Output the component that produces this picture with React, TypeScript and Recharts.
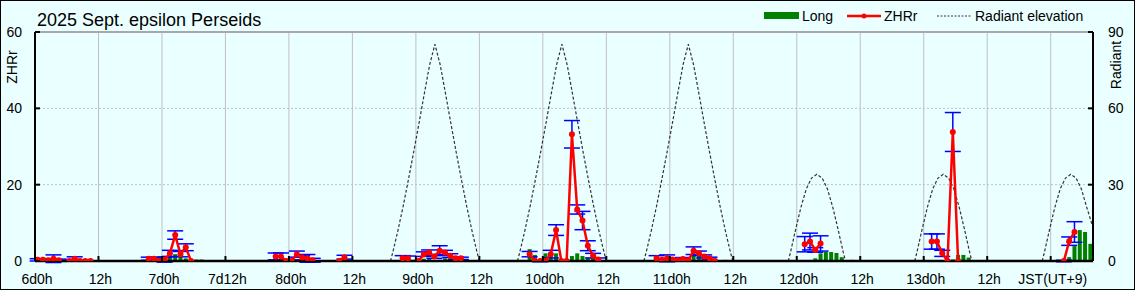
import React from 'react';
import { ComposedChart, Line, Bar, XAxis, YAxis, CartesianGrid, ReferenceLine, ErrorBar } from 'recharts';

// x values: hours elapsed since Sept 6d 0h JST
const xTicks = [0, 12, 24, 36, 48, 60, 72, 84, 96, 108, 120, 132, 144, 156, 168, 180, 192];
const xTickLabels = ['6d0h', '12h', '7d0h', '7d12h', '8d0h', '12h', '9d0h', '12h', '10d0h', '12h', '11d0h', '12h', '12d0h', '12h', '13d0h', '12h', 'JST(UT+9)'];
const leftTicks = [0, 20, 40, 60];
const rightTicks = [0, 30, 60, 90];

// ZHRr: [hour, ZHRr, error] ; null ZHRr = gap in the line
const zhrRows: [number, number | null, number | null][] = [
  [0.5, 0.3, 0.3], [1.5, 0.3, 0.3], [2.5, 0.2, null], [3.5, 0.6, 1.0], [4.5, 0.2, 0.3], [5.5, null, null],
  [6.5, 0, null], [7.5, 0.6, 0.5], [8.5, 0, null], [9.5, 0, null], [10.5, 0, null], [11.5, null, null],
  [21.5, 0.6, 0.4], [22.5, 0.6, 0.4], [23.5, 0, null], [24.5, 0.3, 0.6], [25.5, 2.0, 0.8], [26.5, 6.8, 1.1],
  [27.5, 1.8, 0.7], [28.5, 3.6, 0.9], [29.5, 0, null], [30.5, null, null],
  [45.5, 1.2, 0.9], [46.5, 1.2, 0.9], [47.5, 0, null], [48.5, 0, null], [49.5, 1.8, 0.8], [50.5, 0.9, 0.6],
  [51.5, 0.7, 1.0], [52.5, 0.2, 0.5], [53.5, null, null],
  [57.5, 0, null], [58.5, 1.0, 0.5], [59.5, null, null],
  [69.5, 0.7, 0.7], [70.5, 0.7, 0.6], [71.5, null, null],
  [72.5, 0, null], [73.5, 1.8, 0.6], [74.5, 2.2, 0.7], [75.5, 1.2, 0.5], [76.5, 2.7, 1.3], [77.5, 2.2, 0.6],
  [78.5, 1.4, 0.5], [79.5, 0.7, 0.4], [80.5, 0.7, 0.3], [81.5, null, null],
  [93.5, 1.8, 0.7], [94.5, 0, null], [95.5, 0, 0.2], [96.5, 0, null], [97.5, 1.8, 1.0], [98.5, 8.1, 1.4],
  [99.5, 0, null], [100.5, 0, null], [101.5, 33.2, 3.6], [102.5, 13.5, 1.2], [103.5, 10.6, 2.4],
  [104.5, 4.0, 1.3], [105.5, 1.4, 0.6], [106.5, 0.4, 0.4], [107.5, null, null],
  [117.5, 0.7, 0.7], [118.5, 0.3, null], [119.5, 0.7, 0.9], [120.5, 0.4, null], [121.5, 0.2, null],
  [122.5, 0.5, 0.4], [123.5, 0.2, null], [124.5, 2.7, 1.0], [125.5, 2.0, 0.6], [126.5, 1.2, 0.4],
  [127.5, 0.7, 0.3], [128.5, 0, null], [129.5, null, null],
  [145.5, 4.4, 2.0], [146.5, 5.1, 2.2], [147.5, 2.9, 0.6], [148.5, 4.6, 2.0], [149.5, null, null],
  [169.5, 5.1, 2.0], [170.5, 5.1, 2.0], [171.5, 2.0, 0.8], [172.5, 0, null], [173.5, 33.8, 5.1],
  [174.5, 0, null], [175.5, null, null],
  [194.5, 0, 0.2], [195.5, 5.2, 1.1], [196.5, 7.6, 2.7],
];

// Long (green bars): [hour, value]
const longRows: [number, number][] = [
  [2.5, 0.6], [4.5, 0.2], [8.5, 0.2], [10.5, 0.2],
  [23.5, 1.3], [24.5, 1.3], [25.5, 1.6], [26.5, 1.8], [27.5, 1.3], [28.5, 0.7], [30.5, 0.4], [31.5, 0.4],
  [45.5, 1.1], [57.5, 0.4],
  [73.5, 0.6], [74.5, 0.5], [76.5, 0.3], [77.5, 0.7], [78.5, 1.4], [79.5, 1.0], [80.5, 0.7],
  [93.5, 3.1], [94.5, 1.6], [96.5, 2.0], [97.5, 1.8], [98.5, 2.0], [101.5, 1.3], [102.5, 2.0],
  [103.5, 1.3], [104.5, 0.9], [105.5, 0.7],
  [121.5, 0.5], [122.5, 1.0], [123.5, 0.5], [124.5, 2.0], [125.5, 1.6], [126.5, 0.6], [130.5, 0.3],
  [147.5, 0.7], [148.5, 2.0], [149.5, 2.35], [150.5, 2.35], [151.5, 2.1], [152.5, 1.0], [154.5, 0.3],
  [173.5, 0.4], [174.5, 1.6], [175.5, 1.6], [176.5, 0.9],
  [195.5, 1.0], [196.5, 3.9], [197.5, 8.1], [198.5, 7.6], [199.5, 4.5],
];

// Radiant elevation (deg): [hour, elevation]; null = gap
const radRows: [number, number | null][] = [
  [67.2, 0], [67.6, 3.1], [68.6, 11.9], [69.6, 21.6], [70.6, 32.1], [71.6, 43.0], [72.6, 54.3], [73.6, 65.8],
  [74.6, 77.1], [75.6, 85.2], [76.6, 77.1], [77.6, 65.8], [78.6, 54.3], [79.6, 43.0], [80.6, 32.1],
  [81.6, 21.6], [82.6, 11.9], [83.6, 3.1], [84.0, 0], [85, null],
  [91.2, 0], [91.6, 3.1], [92.6, 11.9], [93.6, 21.6], [94.6, 32.1], [95.6, 43.0], [96.6, 54.3], [97.6, 65.8],
  [98.6, 77.1], [99.6, 85.2], [100.6, 77.1], [101.6, 65.8], [102.6, 54.3], [103.6, 43.0], [104.6, 32.1],
  [105.6, 21.6], [106.6, 11.9], [107.6, 3.1], [108.0, 0], [109, null],
  [115.1, 0], [115.5, 3.1], [116.5, 11.9], [117.5, 21.6], [118.5, 32.1], [119.5, 43.0], [120.5, 54.3],
  [121.5, 65.8], [122.5, 77.1], [123.5, 85.2], [124.5, 77.1], [125.5, 65.8], [126.5, 54.3], [127.5, 43.0],
  [128.5, 32.1], [129.5, 21.6], [130.5, 11.9], [131.5, 3.1], [131.9, 0], [133, null],
  [142.4, 0], [142.8, 3.3], [143.8, 12.5], [144.8, 21.2], [145.8, 28.3], [146.8, 32.6], [147.8, 34.1],
  [148.8, 32.6], [149.8, 28.3], [150.8, 21.2], [151.8, 12.5], [152.8, 3.3], [153.2, 0], [154, null],
  [166.3, 0], [166.7, 3.3], [167.7, 12.5], [168.7, 21.2], [169.7, 28.3], [170.7, 32.6], [171.7, 34.1],
  [172.7, 32.6], [173.7, 28.3], [174.7, 21.2], [175.7, 12.5], [176.7, 3.3], [177.1, 0], [178, null],
  [190.4, 0], [190.8, 3.3], [191.8, 12.5], [192.8, 21.2], [193.8, 28.3], [194.8, 32.6], [195.8, 34.1],
  [196.8, 32.6], [197.8, 28.3], [198.8, 21.2], [199.8, 14.5], [200, 14.0],
];

const zhrData = zhrRows.map(([h, zhr, err]) => ({ h, zhr, err }));
const longData = longRows.map(([h, long]) => ({ h, long }));
const radData = radRows.map(([h, rad]) => ({ h, rad }));

const FONT = '"Liberation Sans", Arial, sans-serif';
const BG = '#eaffff';
const BAR_W = 4;

const BarShape = (props: any) => {
  const { x, y, width, height, fill } = props;
  if (!height || height <= 0) return null;
  const cx = x + width / 2;
  return <rect x={cx - BAR_W / 2} y={y} width={BAR_W} height={height} fill={fill} />;
};

const XTick = (props: any) => {
  const { x, y, payload } = props;
  const i = xTicks.indexOf(payload.value);
  return (
    <g>
      <line x1={x} x2={x} y1={y} y2={y - 5} stroke="#000" strokeWidth={2} />
      <text x={x + 2} y={y + 23} textAnchor="middle" fontFamily={FONT} fontSize={14} fill="#000">
        {xTickLabels[i]}
      </text>
    </g>
  );
};

const LeftTick = (props: any) => {
  const { x, y, payload } = props;
  return (
    <g>
      <line x1={x} x2={x + 5} y1={y} y2={y} stroke="#000" strokeWidth={2} />
      <text x={x - 13} y={y + 5} textAnchor="end" fontFamily={FONT} fontSize={14} fill="#000">
        {payload.value}
      </text>
    </g>
  );
};

const RightTick = (props: any) => {
  const { x, y, payload } = props;
  return (
    <g>
      <line x1={x} x2={x - 5} y1={y} y2={y} stroke="#000" strokeWidth={2} />
      <text x={x + 15} y={y + 5} textAnchor="start" fontFamily={FONT} fontSize={14} fill="#000">
        {payload.value}
      </text>
    </g>
  );
};

export default function App() {
  return (
    <div
      style={{
        position: 'absolute', left: 0, top: 0, width: 1135, height: 290,
        background: BG, border: '1px solid #000', boxSizing: 'border-box', overflow: 'hidden',
      }}
    >
      <div style={{ position: 'absolute', left: -1, top: -1 }}>
        <ComposedChart
          width={1135}
          height={290}
          data={longData}
          margin={{ top: 32, right: 0, bottom: 0, left: 0 }}
          barGap={0}
        >
          <CartesianGrid xAxisId="x" yAxisId="left" horizontal={false} stroke="#c0c0c0" strokeWidth={1} />
          <ReferenceLine xAxisId="x" yAxisId="left" y={20} stroke="#c0c0c0" strokeDasharray="2 2" />
          <ReferenceLine xAxisId="x" yAxisId="left" y={40} stroke="#c0c0c0" strokeDasharray="2 2" />
          <ReferenceLine xAxisId="x" yAxisId="left" y={60} stroke="#a8a8a8" strokeWidth={2} />
          <Bar xAxisId="x" yAxisId="left" dataKey="long" fill="#008000" shape={<BarShape />} isAnimationActive={false} />
          <Line
            xAxisId="x" yAxisId="right" data={radData} dataKey="rad" type="linear"
            stroke="#333" strokeWidth={1.2} strokeDasharray="3 2" dot={false} activeDot={false}
            connectNulls={false} isAnimationActive={false}
          />
          <Line
            xAxisId="x" yAxisId="left" data={zhrData} dataKey="zhr" type="linear"
            stroke="#ff0000" strokeWidth={2.5} dot={{ r: 3, fill: '#ff0000', stroke: 'none' }} activeDot={false}
            connectNulls={false} isAnimationActive={false}
          >
            <ErrorBar dataKey="err" direction="y" width={8} stroke="#0000ff" strokeWidth={1.5} />
          </Line>
          <XAxis
            xAxisId="x" dataKey="h" type="number" domain={[0, 200]} ticks={xTicks} allowDataOverflow
            height={29} tickSize={0} tickMargin={0} tickLine={false} tick={<XTick />}
            axisLine={{ stroke: '#000', strokeWidth: 2.5 }} interval={0}
          />
          <YAxis
            yAxisId="left" orientation="left" type="number" domain={[0, 60]} ticks={leftTicks} allowDataOverflow
            width={35} tickSize={0} tickMargin={0} tickLine={false} tick={<LeftTick />}
            axisLine={{ stroke: '#000', strokeWidth: 2 }} interval={0}
          />
          <YAxis
            yAxisId="right" orientation="right" type="number" domain={[0, 90]} ticks={rightTicks} allowDataOverflow
            width={42} tickSize={0} tickMargin={0} tickLine={false} tick={<RightTick />}
            axisLine={{ stroke: '#000', strokeWidth: 2 }} interval={0}
          />
        </ComposedChart>
      </div>
      <svg width={1135} height={290} style={{ position: 'absolute', left: -1, top: -1, pointerEvents: 'none' }}>
        <text x={37} y={26} fontFamily={FONT} fontSize={18} fill="#000">2025 Sept. epsilon Perseids</text>
        <rect x={764} y={12} width={35} height={7} fill="#008000" />
        <text x={802} y={21} fontFamily={FONT} fontSize={14} fill="#000">Long</text>
        <line x1={847} x2={881} y1={16} y2={16} stroke="#ff0000" strokeWidth={2.5} />
        <circle cx={864} cy={16} r={2.5} fill="#ff0000" />
        <text x={884} y={21} fontFamily={FONT} fontSize={14} fill="#000">ZHRr</text>
        <line x1={937} x2={972} y1={16} y2={16} stroke="#333" strokeWidth={1} strokeDasharray="2 1.5" />
        <text x={975} y={21} fontFamily={FONT} fontSize={14} fill="#000">Radiant elevation</text>
        <text x={0} y={0} transform="translate(17 67) rotate(-90)" textAnchor="middle" fontFamily={FONT} fontSize={14} fill="#000">ZHRr</text>
        <text x={0} y={0} transform="translate(1121 65) rotate(-90)" textAnchor="middle" fontFamily={FONT} fontSize={14} fill="#000">Radiant</text>
      </svg>
    </div>
  );
}
